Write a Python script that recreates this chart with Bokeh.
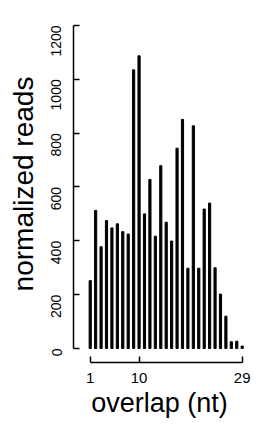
from bokeh.plotting import figure
from bokeh.models import FixedTicker, Range1d
from bokeh.embed import file_html
from bokeh.resources import INLINE
import math

overlap = list(range(1, 30))
reads = [252, 513, 378, 475, 448, 463, 434, 425, 1035, 1087,
         500, 628, 417, 679, 469, 399, 744, 851, 298, 827,
         298, 518, 540, 300, 202, 120, 25, 27, 9]
x_ticks = [1, 10, 29]
y_ticks = [0, 200, 400, 600, 800, 1000, 1200]

FONT = "Liberation Sans"

p = figure(output_backend="svg", toolbar_location=None,
           width=261, height=426,
           min_border_left=73, min_border_right=16,
           min_border_top=5, min_border_bottom=64,
           x_range=Range1d(-2.08, 29.61), y_range=Range1d(-52, 1274))
p.outline_line_color = None
p.grid.visible = False
p.background_fill_color = "white"
p.border_fill_color = "white"

p.vbar(x=overlap, top=reads, bottom=0, width=0.4, color="black")

xa = p.xaxis[0]
xa.ticker = FixedTicker(ticks=x_ticks)
xa.bounds = (1, 29)
xa.minor_tick_line_color = None
xa.major_tick_in = 6
xa.major_tick_out = 0
xa.axis_line_width = 1.5
xa.axis_line_color = "black"
xa.major_tick_line_width = 1.5
xa.major_tick_line_color = "black"
xa.major_label_text_font = FONT
xa.major_label_text_font_size = "15px"
xa.major_label_text_color = "black"
xa.major_label_standoff = 10
xa.axis_label = "overlap (nt)"
xa.axis_label_text_font = FONT
xa.axis_label_text_font_size = "27px"
xa.axis_label_text_font_style = "normal"
xa.axis_label_text_color = "black"
xa.axis_label_standoff = 2

ya = p.yaxis[0]
ya.ticker = FixedTicker(ticks=y_ticks)
ya.bounds = (0, 1200)
ya.minor_tick_line_color = None
ya.major_tick_in = 6
ya.major_tick_out = 0
ya.axis_line_width = 1.5
ya.axis_line_color = "black"
ya.major_tick_line_width = 1.5
ya.major_tick_line_color = "black"
ya.major_label_orientation = math.pi / 2
ya.major_label_text_font = FONT
ya.major_label_text_font_size = "14px"
ya.major_label_text_color = "black"
ya.major_label_standoff = 17
ya.axis_label = "normalized reads"
ya.axis_label_text_font = FONT
ya.axis_label_text_font_size = "28px"
ya.axis_label_text_font_style = "normal"
ya.axis_label_text_color = "black"
ya.axis_label_standoff = 5

open("out.html", "w").write(file_html(p, INLINE))
